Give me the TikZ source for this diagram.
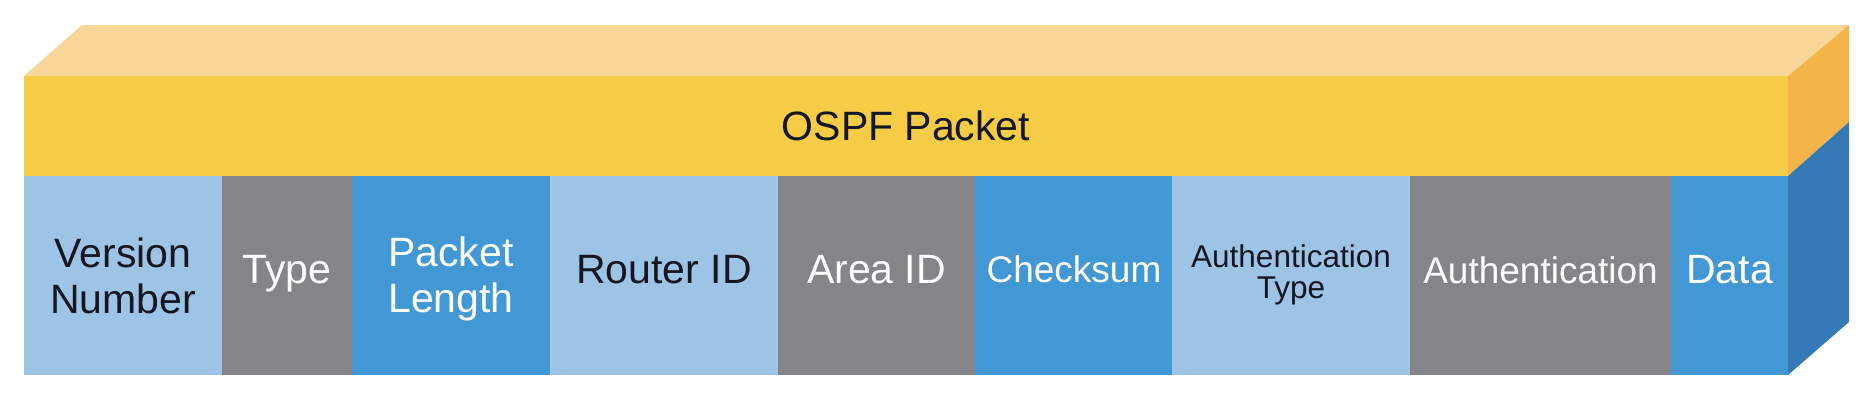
\documentclass[tikz,border=0pt]{standalone}
\usepackage{fontspec}
\setmainfont{Liberation Sans}
\definecolor{lightfield}{HTML}{9DC3E5}
\definecolor{grayfield}{HTML}{858589}
\definecolor{bluefield}{HTML}{4298D4}
\definecolor{blueside}{HTML}{3579B6}
\definecolor{yelfront}{HTML}{F6CB46}
\definecolor{yeltop}{HTML}{F8D698}
\definecolor{yelside}{HTML}{F3B54A}
\definecolor{txtdark}{HTML}{141622}
\begin{document}
\begin{tikzpicture}[x=1pt,y=-1pt,
  field/.style={rectangle, inner sep=0pt, outer sep=0pt, minimum height=199pt, anchor=north west, draw=none},
  lbl/.style={inner sep=0pt, outer sep=0pt, anchor=base, align=center, font=\fontsize{41}{46}\selectfont},
  dk/.style={text=txtdark}, wh/.style={text=white}]
\useasboundingbox (0,0) rectangle (1876,400);
% 3D faces
\fill[yeltop] (24,76) -- (82,25) -- (1849,25) -- (1788,76) -- cycle;
\fill[yelside] (1788,76) -- (1849,25) -- (1849,122) -- (1788,176) -- cycle;
\fill[blueside] (1788,176) -- (1849,122) -- (1849,322) -- (1788,375) -- cycle;
% header band
\node[field, fill=yelfront, minimum width=1764pt, minimum height=100pt, text=txtdark, font=\fontsize{41}{46}\selectfont] (pkt) at (24,76) {OSPF Packet};
% fields
\node[field, fill=lightfield, minimum width=198pt] (vn) at (24,176) {};
\node[field, fill=grayfield, minimum width=130pt] (ty) at (222,176) {};
\node[field, fill=bluefield, minimum width=198pt] (pl) at (352,176) {};
\node[field, fill=lightfield, minimum width=228pt] (ri) at (550,176) {};
\node[field, fill=grayfield, minimum width=197pt] (ai) at (778,176) {};
\node[field, fill=bluefield, minimum width=197pt] (cs) at (975,176) {};
\node[field, fill=lightfield, minimum width=238pt] (at) at (1172,176) {};
\node[field, fill=grayfield, minimum width=261pt] (au) at (1410,176) {};
\node[field, fill=bluefield, minimum width=117pt] (da) at (1671,176) {};
% labels
\node[lbl, dk] (vnt) at (123,313) {Version\\Number};
\node[lbl, wh] (tyt) at (287,283) {Type};
\node[lbl, wh] (plt) at (451,312) {Packet\\Length};
\node[lbl, dk] (rit) at (664,283) {Router ID};
\node[lbl, wh] (ait) at (876.5,283) {Area ID};
\node[lbl, wh, font=\fontsize{37}{42}\selectfont] (cst) at (1074,282) {Checksum};
\node[lbl, dk, font=\fontsize{31.5}{31}\selectfont] (att) at (1291,298) {Authentication\\Type};
\node[lbl, wh, font=\fontsize{37}{42}\selectfont] (aut) at (1540.5,283) {Authentication};
\node[lbl, wh] (dat) at (1729.5,283) {Data};
\end{tikzpicture}
\end{document}
